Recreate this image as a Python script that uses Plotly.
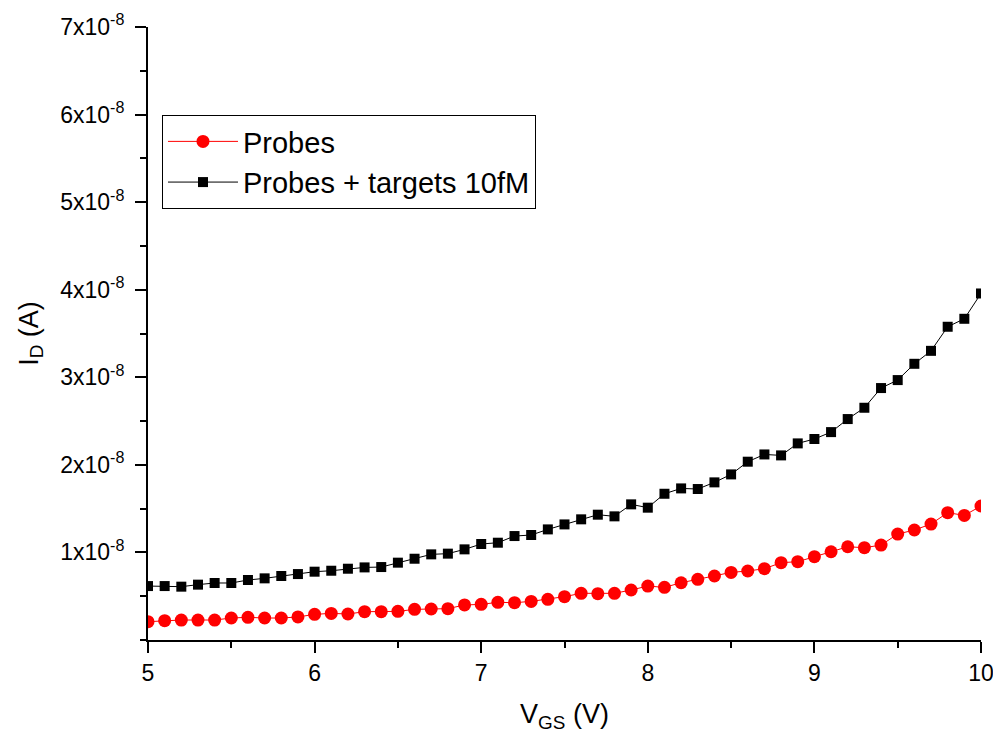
import plotly.graph_objects as go

vgs = [round(5.0 + 0.1 * i, 1) for i in range(51)]

probes = [0.209, 0.221, 0.228, 0.228, 0.228, 0.251, 0.259, 0.251, 0.251, 0.263,
          0.293, 0.304, 0.297, 0.323, 0.323, 0.327, 0.350, 0.354, 0.358, 0.400,
          0.407, 0.430, 0.426, 0.441, 0.464, 0.495,
          0.533, 0.529, 0.533, 0.571, 0.616, 0.601, 0.654, 0.693, 0.731, 0.772,
          0.788, 0.814, 0.883, 0.894, 0.951, 1.008, 1.065, 1.054, 1.084, 1.210,
          1.256, 1.324, 1.454, 1.423, 1.530]
probes = [v * 1e-8 for v in probes]

targets = [0.616, 0.616, 0.609, 0.632, 0.651, 0.651, 0.685, 0.704, 0.731, 0.753,
           0.780, 0.791, 0.814, 0.829, 0.833, 0.883, 0.928, 0.978, 0.986, 1.035,
           1.096, 1.111, 1.187, 1.199, 1.263, 1.320,
           1.378, 1.431, 1.412, 1.549, 1.511, 1.670, 1.731, 1.724, 1.800, 1.891,
           2.036, 2.119, 2.108, 2.245, 2.295, 2.374, 2.523, 2.652, 2.877, 2.968,
           3.154, 3.302, 3.577, 3.668, 3.957]
targets = [v * 1e-8 for v in targets]

ytick_vals = [1e-8, 2e-8, 3e-8, 4e-8, 5e-8, 6e-8, 7e-8]
ytick_text = ["%dx10<sup>-8</sup>" % k for k in range(1, 8)]
xtick_vals = [5, 6, 7, 8, 9, 10]

FONT = "Arial"

fig = go.Figure()
fig.add_trace(go.Scatter(
    x=vgs, y=probes, mode="lines+markers", name="Probes",
    line=dict(color="red", width=1),
    marker=dict(symbol="circle", size=13, color="red"),
))
fig.add_trace(go.Scatter(
    x=vgs, y=targets, mode="lines+markers", name="Probes + targets 10fM",
    line=dict(color="black", width=1),
    marker=dict(symbol="square", size=10, color="black"),
))

# page body has an 8px default margin, so the figure is sized to fit the window
fig.update_layout(
    width=993, height=733,
    margin=dict(l=140, r=20, t=19, b=101),
    paper_bgcolor="white", plot_bgcolor="white",
    font=dict(family=FONT, size=22, color="black"),
    showlegend=True,
    legend=dict(
        x=0.0168, y=0.8564, xanchor="left", yanchor="top",
        bordercolor="black", borderwidth=1, bgcolor="white",
        font=dict(family=FONT, size=29, color="black"),
        tracegroupgap=0, itemwidth=70,
    ),
)
fig.update_xaxes(
    range=[5, 10], tickvals=xtick_vals, ticks="outside", ticklen=11, tickwidth=2,
    tickcolor="black", showline=True, linecolor="black", linewidth=2,
    showgrid=False, zeroline=False, automargin=False,
    minor=dict(dtick=0.5, ticks="outside", ticklen=6, tickwidth=2, tickcolor="black"),
    tickfont=dict(family=FONT, size=23),
    title=dict(text="V<sub>GS</sub> (V)", font=dict(family=FONT, size=27), standoff=20),
)
fig.update_yaxes(
    range=[0, 7e-8], tickvals=ytick_vals, ticktext=ytick_text, ticks="outside",
    ticklen=11, tickwidth=2, tickcolor="black", showline=True, linecolor="black",
    linewidth=2, showgrid=False, zeroline=False, automargin=False,
    ticklabelstandoff=6,
    minor=dict(dtick=0.5e-8, tick0=0, ticks="outside", ticklen=6, tickwidth=2, tickcolor="black"),
    tickfont=dict(family=FONT, size=23),
    title=dict(text="I<sub>D</sub> (A)", font=dict(family=FONT, size=27), standoff=14),
)

fig.write_html("out.html")
